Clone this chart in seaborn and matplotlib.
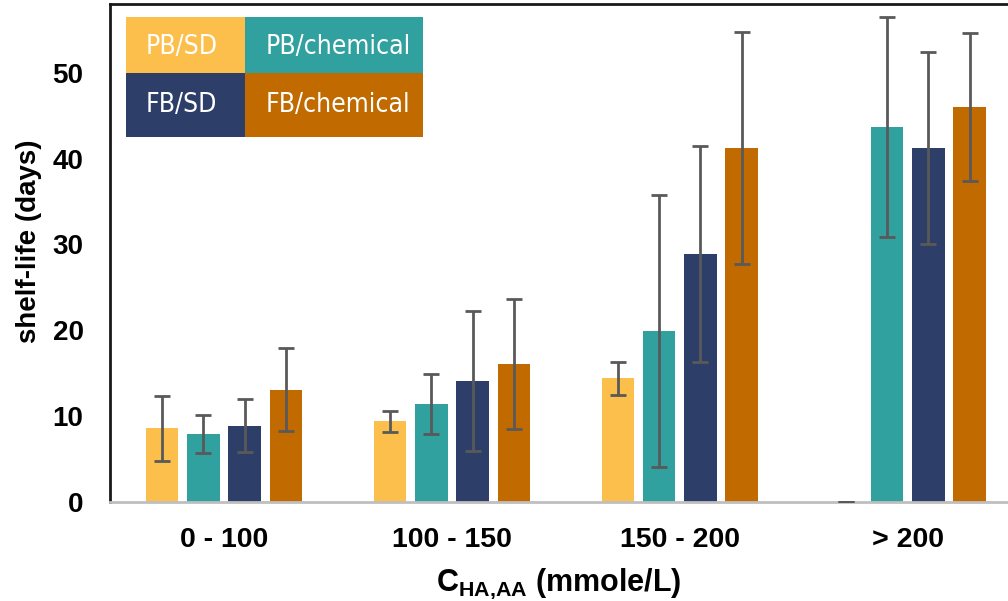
import numpy as np
import pandas as pd
import matplotlib
matplotlib.use("Agg")
import matplotlib.pyplot as plt
import seaborn as sns
from matplotlib.patches import Rectangle
from matplotlib import font_manager

# ---- data ----
categories = ["0 - 100", "100 - 150", "150 - 200", "> 200"]
series = ["PB/SD", "PB/chemical", "FB/SD", "FB/chemical"]
pb_sd = [8.6, 9.4, 14.4, 0.0]
pb_chem = [7.9, 11.4, 19.9, 43.7]
fb_sd = [8.9, 14.1, 28.9, 41.2]
fb_chem = [13.1, 16.1, 41.2, 46.0]
pb_sd_err = [3.8, 1.2, 1.9, 0.0]
pb_chem_err = [2.2, 3.5, 15.8, 12.8]
fb_sd_err = [3.1, 8.2, 12.6, 11.2]
fb_chem_err = [4.8, 7.6, 13.5, 8.6]
colors = ["#FCBF4C", "#31A1A0", "#2D3F69", "#C06A00"]
y_ticks = [0, 10, 20, 30, 40, 50]

values = [pb_sd, pb_chem, fb_sd, fb_chem]
errors = [pb_sd_err, pb_chem_err, fb_sd_err, fb_chem_err]

rows = []
for s, vals, errs in zip(series, values, errors):
    for c, v, e in zip(categories, vals, errs):
        rows.append({"range": c, "series": s, "value": v, "err": e})
df = pd.DataFrame(rows)

sns.set_style("white")
plt.rcParams["font.family"] = ["Liberation Sans", "DejaVu Sans"]
plt.rcParams["mathtext.fontset"] = "custom"
plt.rcParams["mathtext.bf"] = "Liberation Sans:bold"
plt.rcParams["mathtext.rm"] = "Liberation Sans"
plt.rcParams["text.color"] = "black"
plt.rcParams["axes.labelcolor"] = "black"
plt.rcParams["xtick.color"] = "black"
plt.rcParams["ytick.color"] = "black"

# condensed font for the legend cells, if one is installed
cond_font = None
for f in font_manager.fontManager.ttflist:
    if f.name == "DejaVu Sans" and f.stretch == "condensed" and f.weight in (400, "normal") and f.style == "normal":
        cond_font = f.fname
        break
if cond_font is None:
    for f in font_manager.fontManager.ttflist:
        if "Condensed" in f.fname or "Narrow" in f.fname:
            cond_font = f.fname
            break
legend_fp = (font_manager.FontProperties(fname=cond_font, size=19) if cond_font
             else font_manager.FontProperties(family="Liberation Sans", size=17))

fig = plt.figure(figsize=(10.08, 6.01), dpi=100)
ax = fig.add_axes([110 / 1008, 1 - 502 / 601, 1 - 110 / 1008, (502 - 4) / 601])

sns.barplot(data=df, x="range", y="value", hue="series", order=categories,
            hue_order=series, palette=colors, saturation=1, width=0.725, gap=0.21,
            errorbar=None, legend=False, linewidth=0, ax=ax)

# error bars at the centres of the drawn bars
for cont, s in zip(ax.containers, series):
    sub = df[df["series"] == s].set_index("range").loc[categories]
    xs = [b.get_x() + b.get_width() / 2 for b in cont]
    ax.errorbar(xs, sub["value"].values, yerr=sub["err"].values, fmt="none",
                ecolor="#595959", elinewidth=2, capsize=6, capthick=2, zorder=5)

ax.set_ylim(0, 58)
ax.set_xlim(-0.5, 3.44)
ax.set_yticks(y_ticks)
ax.set_yticklabels([str(t) for t in y_ticks])
ax.tick_params(axis="y", length=0, pad=19, labelsize=20, labelcolor="black")
ax.tick_params(axis="x", length=0, pad=18, labelsize=20.5, labelcolor="black")
for lab in ax.get_xticklabels() + ax.get_yticklabels():
    lab.set_fontweight("bold")

ax.set_ylabel("shelf-life (days)", fontsize=20, fontweight="bold", color="black")
ax.yaxis.set_label_coords(-0.0757, 0.524)
ax.set_xlabel(r"$\mathbf{C_{HA{,}AA}}$ (mmole/L)", fontsize=22, fontweight="bold",
              labelpad=10, color="black")

for side in ["left", "top"]:
    ax.spines[side].set_color("#1a1a1a")
    ax.spines[side].set_linewidth(2)
ax.spines["right"].set_visible(False)
ax.spines["bottom"].set_color("#BFBFBF")
ax.spines["bottom"].set_linewidth(2)

# custom colour-cell legend
xs_cells = [0.0178, 0.1503, 0.349]
ys_cells = [0.9745, 0.8618, 0.7333]
text_x = [0.0401, 0.1737]
text_y = [0.9137, 0.7972]
for i, (s, col) in enumerate(zip(series, colors)):
    r, cidx = divmod(i, 2)
    x0, x1 = xs_cells[cidx], xs_cells[cidx + 1]
    y1, y0 = ys_cells[r], ys_cells[r + 1]
    ax.add_patch(Rectangle((x0, y0), x1 - x0, y1 - y0, transform=ax.transAxes,
                           facecolor=col, edgecolor="none", zorder=6, clip_on=False))
    ax.text(text_x[cidx], text_y[r], s,
            transform=ax.transAxes, ha="left", va="center", color="white",
            fontproperties=legend_fp, zorder=7)

fig.savefig("out.png", dpi=100)
